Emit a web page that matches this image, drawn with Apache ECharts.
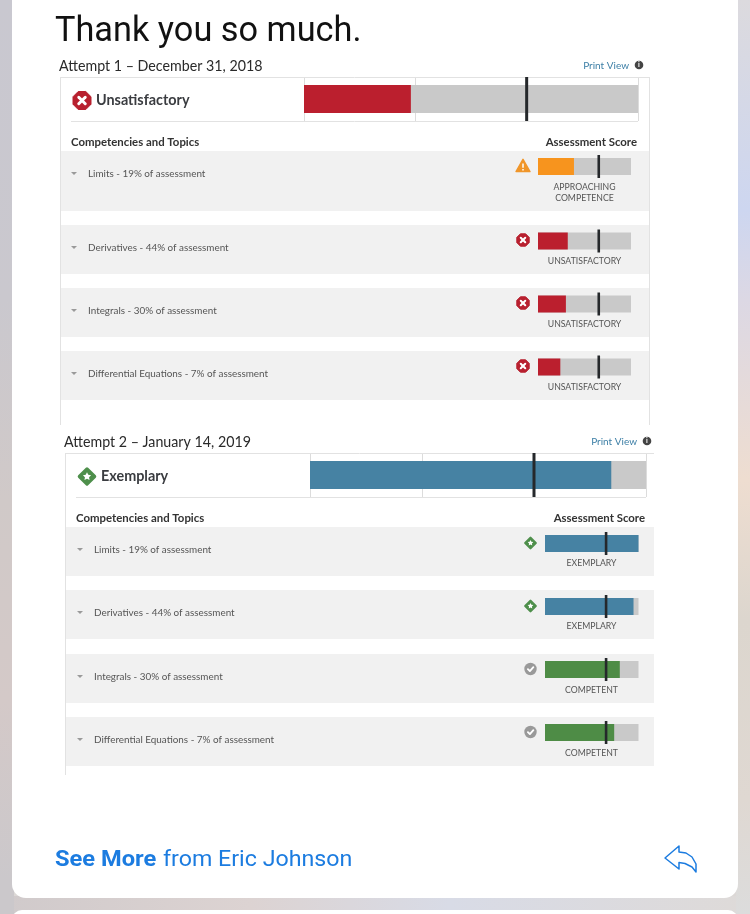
<!DOCTYPE html>
<html><head><meta charset="utf-8">
<style>
html,body{margin:0;padding:0;width:750px;height:914px;overflow:hidden;background-color:#dcd8d6;}
body{background-image:
 linear-gradient(180deg,#c9c8d0 0,#cac8ce 300px,#d0c9c8 500px,#d4c9c8 700px,#cbc8cb 880px,#cbc8cb 914px),
 linear-gradient(180deg,#dcdade 0,#cdd6f0 210px,#dcd8e4 300px,#eeddd0 480px,#dcd6ce 620px,#dfd8d2 800px,#dcdcdc 914px),
 linear-gradient(90deg,#d0cacb 0,#dcd3d2 250px,#d8dbe6 450px,#dedad8 750px);
 background-size:14px 914px,14px 914px,750px 20px;
 background-position:0 0,736px 0,0 896px;
 background-repeat:no-repeat;}
#c{width:750px;height:914px;}
</style>
<script src="https://cdn.jsdelivr.net/npm/echarts@6/dist/echarts.min.js"></script>
</head><body><div id="c"></div>
<script>
// ---- data ----
const maxScore = 3;
const topics = ['Limits - 19% of assessment','Derivatives - 44% of assessment','Integrals - 30% of assessment','Differential Equations - 7% of assessment'];
const attempt1Overall = 0.96, attempt1Target = 2.0;
const attempt2Overall = 2.69, attempt2Target = 2.0;
const attempt1Scores = [1.16, 0.96, 0.90, 0.72];
const attempt2Scores = [3.0, 2.84, 2.40, 2.22];
const topicTarget = 1.96;
const attempt1Levels = ['approaching','unsat','unsat','unsat'];
const attempt2Levels = ['exemplary','exemplary','competent','competent'];
// ---- style ----
const levelColor = {unsat:'#bb1f2e',approaching:'#f7941e',exemplary:'#4682a3',competent:'#4e8c46'};
const levelText = {unsat:['UNSATISFACTORY'],approaching:['APPROACHING','COMPETENCE'],exemplary:['EXEMPLARY'],competent:['COMPETENT']};
const TRACK='#c9c9c9', ROW='#f1f1f1', MARK='#25282b', LINE='#e2e2e2';
// ---- layout ----
const layout1 = {x:60,right:649,inner:71,barX:304,barW:334,mainTop:77,title:66,head:142.5,status:100.5,label:'Unsatisfactory',levelKey:'unsat',
  base:121,iconX:82,statusX:96,miniX:538,miniW:93,miniH:17,iconMini:523,textX:88,statusC:584.5,headR:637,arrow:74,
  rows:[[151,211],[225,274],[288,337],[351,400]],miniTop:[158,232.5,295.5,358.5],labelY:[173.5,247.5,310.5,373.5],subY:[187,261.5,324.5,387.5],iconY:[166,240,303,366],bottom:425,
  attempt:'Attempt 1 – December 31, 2018',printR:629,printY:65,infoX:639};
const layout2 = {x:65,right:654,inner:76,barX:310,barW:336,mainTop:453,title:442,head:518.5,status:476.5,label:'Exemplary',levelKey:'exemplary',
  base:497,iconX:87,statusX:101,miniX:545,miniW:93.5,miniH:17,iconMini:530.5,textX:94,statusC:591.5,headR:645,arrow:80,
  rows:[[527,576],[590,639],[654,703],[717,766]],miniTop:[535,598,661,724],labelY:[549.5,612.5,676.5,739.5],subY:[563.5,626.5,690,753],iconY:[543,606,669,732],bottom:775,
  attempt:'Attempt 2 – January 14, 2019',printR:637,printY:441,infoX:647};

const grids=[],xAxes=[],yAxes=[],series=[],g=[];
function bar(left,top,width,height,barH,markH,markW,value,target,color,splits){
  const i=grids.length;
  grids.push({left,top,width,height});
  xAxes.push({gridIndex:i,type:'value',min:0,max:maxScore,interval:1,axisLine:{show:false},axisTick:{show:false},axisLabel:{show:false},
    splitLine:{show:splits,lineStyle:{color:'#dcdcdc',width:1}}});
  yAxes.push({gridIndex:i,type:'category',data:['score'],axisLine:{show:false},axisTick:{show:false},axisLabel:{show:false},splitLine:{show:false}});
  series.push({type:'bar',xAxisIndex:i,yAxisIndex:i,data:[maxScore],barWidth:barH,barGap:'-100%',itemStyle:{color:TRACK},silent:true});
  series.push({type:'bar',xAxisIndex:i,yAxisIndex:i,data:[value],barWidth:barH,barGap:'-100%',itemStyle:{color},silent:true});
  series.push({type:'scatter',xAxisIndex:i,yAxisIndex:i,data:[[target,'score']],symbol:'rect',symbolSize:[markW,markH],itemStyle:{color:MARK,opacity:1},z:5,silent:true,clip:false});
}
function T(text,x,y,size,fill,opt){opt=opt||{};
  g.push({type:'text',x,y,scaleX:opt.scaleX||1,style:{text,fontSize:size,fontFamily:opt.font||'Lato',fontWeight:opt.weight||'normal',fill,align:opt.align||'left',verticalAlign:'middle'},z:3,silent:true});
}
function line(x1,y1,x2,y2,color,w){g.push({type:'line',shape:{x1,y1,x2,y2},style:{stroke:color,lineWidth:w||1},z:1,silent:true});}
function poly(points,fill,stroke,w,z){g.push({type:'polygon',shape:{points},style:{fill,stroke:stroke||null,lineWidth:w||0,lineJoin:'round'},z:z||3,silent:true});}
function polyline(points,color,w){g.push({type:'polyline',shape:{points},style:{stroke:color,lineWidth:w,fill:null,lineCap:'round',lineJoin:'round'},z:4,silent:true});}
function star(cx,cy,R){const pts=[];for(let k=0;k<10;k++){const rr=k%2?R*0.5:R,a=-Math.PI/2+k*Math.PI/5;pts.push([cx+rr*Math.cos(a),cy+rr*Math.sin(a)]);}poly(pts,'#fff',null,0,4);}
function icon(kind,cx,cy,r){
  if(kind==='unsat'){
    const a=r*0.42;
    poly([[cx-a,cy-r],[cx+a,cy-r],[cx+r,cy-a],[cx+r,cy+a],[cx+a,cy+r],[cx-a,cy+r],[cx-r,cy+a],[cx-r,cy-a]],'#b8202f','#b8202f',1);
    const d=r*0.36;
    polyline([[cx-d,cy-d],[cx+d,cy+d]],'#fff',r*0.33);
    polyline([[cx+d,cy-d],[cx-d,cy+d]],'#fff',r*0.33);
  }else if(kind==='approaching'){
    const q=r*1.12;
    poly([[cx,cy-q*0.95],[cx+q,cy+q*0.8],[cx-q,cy+q*0.8]],'#f0962a','#f0962a',1.5);
    line(cx,cy-q*0.35,cx,cy+q*0.25,'#fff',1.5);g[g.length-1].z=4;
    line(cx,cy+q*0.42,cx,cy+q*0.64,'#fff',1.5);g[g.length-1].z=4;
  }else if(kind==='exemplary'){
    const e=r*0.85;
    poly([[cx,cy-e],[cx+e,cy],[cx,cy+e],[cx-e,cy]],'#4e8f4b','#4e8f4b',r*0.36);
    star(cx,cy,r*0.48);
  }else{
    g.push({type:'circle',shape:{cx,cy,r},style:{fill:'#999'},z:3,silent:true});
    polyline([[cx-r*.42,cy+r*.02],[cx-r*.1,cy+r*.34],[cx+r*.46,cy-r*.3]],'#fff',r*0.3);
  }
}
function attempt(L,overall,target,scores,levels,color){
  T(L.attempt,L.x-1,L.title,16,'#2a2a2a',{font:'Lato',scaleX:0.89});
  T('Print View',L.printR,L.printY+.5,10,'#3d7fa6',{align:'right'});
  g.push({type:'circle',shape:{cx:L.infoX,cy:L.printY,r:4.3},style:{fill:'#444'},z:3,silent:true});
  T('i',L.infoX,L.printY,7,'#fff',{align:'center',weight:'bold'});g[g.length-1].z=4;
  line(L.x+.5,L.mainTop,L.x+.5,L.bottom,LINE);
  if(L===layout1) line(L.right+.5,L.mainTop,L.right+.5,L.bottom,LINE);
  line(L.x,L.mainTop+.5,L.right,L.mainTop+.5,LINE);
  line(L.inner,L.base+.5,L.barX+L.barW,L.base+.5,LINE);
  icon(L.levelKey,L.iconX,L.status,9);
  T(L.label,L.statusX,L.status,14.4,'#3a3c40',{weight:'bold'});
  T('Competencies and Topics',L.inner,L.head,11.4,'#333',{weight:'bold'});
  T('Assessment Score',L.headR,L.head,11.4,'#333',{weight:'bold',align:'right'});
  bar(L.barX,L.mainTop,L.barW,L.base-L.mainTop,28,44,3,overall,target,color,true);
  topics.forEach((t,i)=>{
    const r=L.rows[i];
    g.push({type:'rect',shape:{x:L.x,y:r[0],width:L.right-L.x,height:r[1]-r[0]},style:{fill:ROW},z:0,silent:true});
    const ax=L.arrow,ay=L.labelY[i];
    poly([[ax-3,ay-1.5],[ax+3,ay-1.5],[ax,ay+1.5]],'#9a9a9a');
    T(t,L.textX,ay,9.9,'#555');
    icon(levels[i],L.iconMini,L.iconY[i],6.2);
    bar(L.miniX,L.miniTop[i]-3,L.miniW,L.miniH+6,L.miniH,23,2.6,scores[i],topicTarget,levelColor[levels[i]],false);
    const lines=levelText[levels[i]];
    lines.forEach((s,k)=>T(s,L.statusC,L.subY[i]+k*11,8.7,'#555',{align:'center'}));
  });
}
// cards
g.push({type:'rect',shape:{x:12,y:-20,width:726,height:918,r:14},style:{fill:'#fff'},z:0,silent:true});
g.push({type:'rect',shape:{x:12,y:910,width:726,height:30,r:10},style:{fill:'#fff'},z:0,silent:true});
T('Thank you so much.',55,32,34.3,'#111',{font:'Roboto'});
attempt(layout1,attempt1Overall,attempt1Target,attempt1Scores,attempt1Levels,levelColor.unsat);
attempt(layout2,attempt2Overall,attempt2Target,attempt2Scores,attempt2Levels,levelColor.exemplary);
T('See More',55,860,22,'#1c7ce0',{font:'Roboto',weight:'bold',scaleX:1.075});
T('from Eric Johnson',163,860,22,'#1c7ce0',{font:'Roboto',scaleX:1.055});
g.push({type:'polygon',shape:{points:[[679,846],[665,858],[679,869],[679,862.5],[685,863.5],[692,867],[696,872],[696,864],[692,857],[686,853],[679,852]]},style:{fill:'#fff',stroke:'#1c7ce0',lineWidth:1.5,lineJoin:'round'},z:3,silent:true});

const chart=echarts.init(document.getElementById('c'),null,{renderer:'canvas'});
chart.setOption({animation:false,backgroundColor:'transparent',grid:grids,xAxis:xAxes,yAxis:yAxes,series,graphic:{elements:g},tooltip:{show:false}});
</script></body></html>
